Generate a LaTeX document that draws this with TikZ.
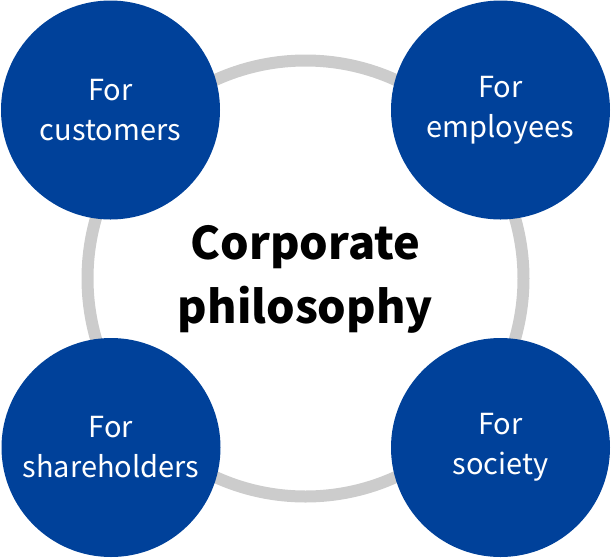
\documentclass[tikz,border=0pt]{standalone}
\usepackage{fontspec}
\setmainfont{Noto Sans CJK KR}
\usetikzlibrary{calc}
\definecolor{philblue}{HTML}{00419A}
\definecolor{ringgray}{HTML}{CCCCCC}

\begin{document}
\begin{tikzpicture}[x=1pt, y=-1pt,
		bubble/.style={circle, fill=philblue, minimum size=219pt, inner sep=0pt,
			align=center, text=white, font=\fontsize{29}{40}\selectfont},
		core/.style={align=center, font=\fontsize{45}{64}\selectfont\bfseries}]
			%%%%% START %%%%%
			
			\useasboundingbox (0, 0) rectangle (611, 558);
			
			\draw[line width=12pt, color=ringgray] (305.5, 278.5) circle (218);
			
			\node[core] (center) at (305.5, 279) {Corporate\\philosophy};
			
			\node[bubble] (customers) at (110.5, 110) {For\\customers};
			\node[bubble] (employees) at (500.5, 110) {For\\employees};
			\node[bubble] (holders) at (111, 447.5) {For\\shareholders};
			\node[bubble] (society) at (500.5, 447.5) {For\\society};
			
			%%%%% END %%%%%
\end{tikzpicture}
\end{document}
